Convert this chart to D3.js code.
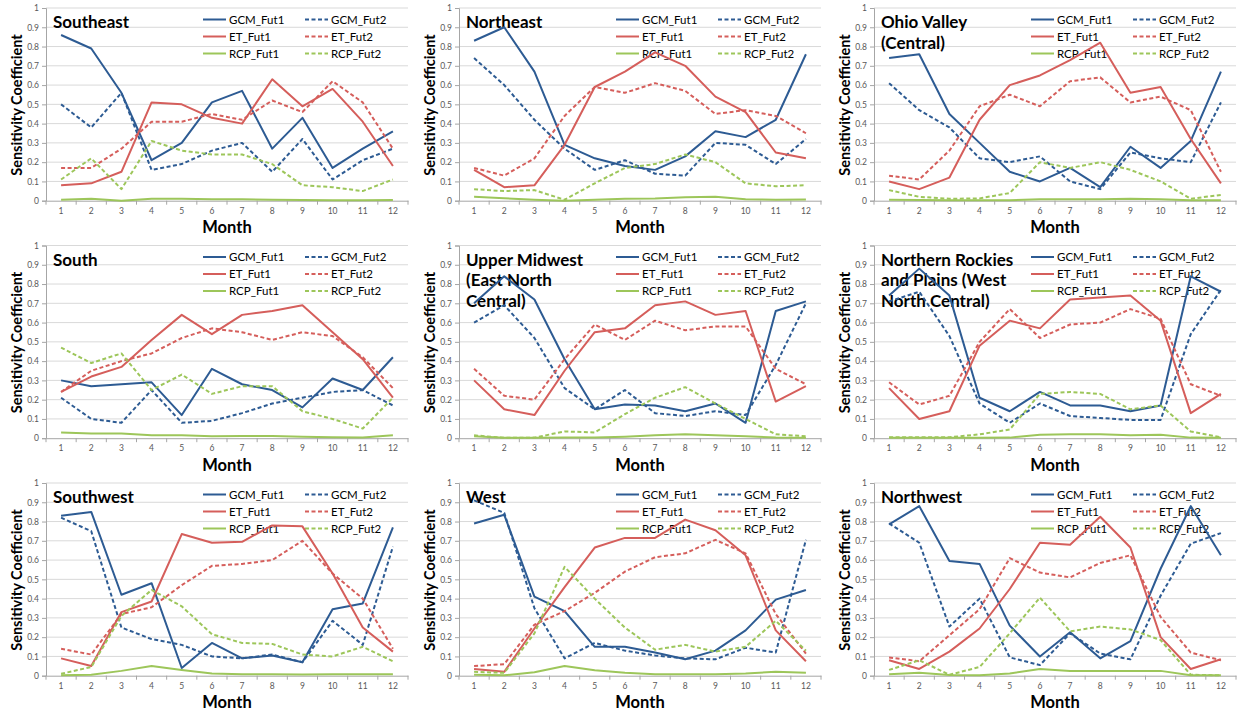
<!DOCTYPE html>
<html>
<head>
<meta charset="utf-8">
<script src="https://cdn.jsdelivr.net/npm/d3@7"></script>
<style>
  html, body { margin: 0; padding: 0; background: #fff; }
  svg { display: block; }
</style>
</head>
<body>
<svg id="chart" width="1241" height="712"></svg>
<script>
// Months on the x axis and y tick values
const months = [1, 2, 3, 4, 5, 6, 7, 8, 9, 10, 11, 12];
const yTicks = [0, 0.1, 0.2, 0.3, 0.4, 0.5, 0.6, 0.7, 0.8, 0.9, 1];
const seriesNames = ["GCM_Fut1", "GCM_Fut2", "ET_Fut1", "ET_Fut2", "RCP_Fut1", "RCP_Fut2"];

// Region titles (one line per array entry)
const titleSoutheast = ["Southeast"];
const titleNortheast = ["Northeast"];
const titleOhio = ["Ohio Valley", "(Central)"];
const titleSouth = ["South"];
const titleUpperMidwest = ["Upper Midwest", "(East North", "Central)"];
const titleRockies = ["Northern Rockies", "and Plains (West", "North Central)"];
const titleSouthwest = ["Southwest"];
const titleWest = ["West"];
const titleNorthwest = ["Northwest"];

// Sensitivity coefficients per region, series order as in seriesNames
const southeast = [
  [0.86, 0.79, 0.56, 0.21, 0.30, 0.51, 0.57, 0.27, 0.43, 0.17, 0.27, 0.36],
  [0.50, 0.38, 0.56, 0.16, 0.19, 0.26, 0.30, 0.15, 0.32, 0.11, 0.21, 0.27],
  [0.08, 0.09, 0.15, 0.51, 0.50, 0.43, 0.40, 0.63, 0.49, 0.58, 0.41, 0.18],
  [0.17, 0.17, 0.27, 0.41, 0.41, 0.45, 0.42, 0.52, 0.46, 0.62, 0.51, 0.27],
  [0.005, 0.01, 0.0, 0.01, 0.01, 0.008, 0.007, 0.005, 0.004, 0.002, 0.002, 0.003],
  [0.11, 0.22, 0.06, 0.31, 0.26, 0.24, 0.24, 0.19, 0.08, 0.07, 0.05, 0.11]
];
const northeast = [
  [0.83, 0.90, 0.67, 0.29, 0.22, 0.18, 0.16, 0.23, 0.36, 0.33, 0.42, 0.76],
  [0.74, 0.60, 0.42, 0.27, 0.16, 0.21, 0.14, 0.13, 0.30, 0.29, 0.19, 0.32],
  [0.16, 0.07, 0.08, 0.29, 0.59, 0.67, 0.77, 0.70, 0.54, 0.46, 0.25, 0.22],
  [0.17, 0.13, 0.22, 0.44, 0.59, 0.56, 0.61, 0.57, 0.45, 0.47, 0.44, 0.35],
  [0.02, 0.013, 0.005, 0.0, 0.005, 0.01, 0.012, 0.018, 0.02, 0.007, 0.005, 0.006],
  [0.06, 0.05, 0.055, 0.005, 0.09, 0.17, 0.19, 0.24, 0.20, 0.09, 0.075, 0.08]
];
const ohioValley = [
  [0.74, 0.76, 0.45, 0.30, 0.15, 0.10, 0.17, 0.07, 0.28, 0.17, 0.31, 0.67],
  [0.61, 0.47, 0.38, 0.22, 0.20, 0.23, 0.10, 0.06, 0.25, 0.22, 0.20, 0.51],
  [0.10, 0.06, 0.12, 0.42, 0.60, 0.65, 0.73, 0.82, 0.56, 0.59, 0.32, 0.09],
  [0.13, 0.11, 0.26, 0.49, 0.55, 0.49, 0.62, 0.64, 0.51, 0.54, 0.47, 0.15],
  [0.005, 0.003, 0.002, 0.002, 0.002, 0.008, 0.007, 0.008, 0.01, 0.007, 0.002, 0.002],
  [0.055, 0.02, 0.01, 0.012, 0.04, 0.20, 0.17, 0.20, 0.16, 0.10, 0.01, 0.03]
];
const south = [
  [0.30, 0.27, 0.28, 0.29, 0.12, 0.36, 0.28, 0.25, 0.16, 0.31, 0.25, 0.42],
  [0.21, 0.10, 0.08, 0.25, 0.08, 0.09, 0.13, 0.18, 0.21, 0.24, 0.25, 0.17],
  [0.24, 0.32, 0.37, 0.51, 0.64, 0.54, 0.64, 0.66, 0.69, 0.55, 0.41, 0.21],
  [0.24, 0.35, 0.40, 0.44, 0.52, 0.57, 0.55, 0.51, 0.55, 0.53, 0.42, 0.26],
  [0.03, 0.025, 0.025, 0.015, 0.015, 0.01, 0.012, 0.012, 0.008, 0.005, 0.004, 0.015],
  [0.47, 0.39, 0.44, 0.25, 0.33, 0.23, 0.27, 0.27, 0.14, 0.10, 0.05, 0.21]
];
const upperMidwest = [
  [0.70, 0.84, 0.72, 0.41, 0.15, 0.175, 0.17, 0.14, 0.18, 0.08, 0.66, 0.71],
  [0.60, 0.69, 0.52, 0.26, 0.15, 0.25, 0.13, 0.115, 0.14, 0.12, 0.38, 0.70],
  [0.30, 0.15, 0.12, 0.35, 0.55, 0.57, 0.69, 0.71, 0.64, 0.66, 0.19, 0.27],
  [0.36, 0.22, 0.20, 0.41, 0.59, 0.51, 0.61, 0.56, 0.58, 0.58, 0.36, 0.28],
  [0.01, 0.002, 0.002, 0.003, 0.003, 0.008, 0.015, 0.02, 0.015, 0.01, 0.003, 0.002],
  [0.015, 0.002, 0.003, 0.035, 0.03, 0.125, 0.21, 0.265, 0.18, 0.10, 0.02, 0.01]
];
const northernRockies = [
  [0.74, 0.88, 0.74, 0.21, 0.14, 0.24, 0.17, 0.17, 0.14, 0.17, 0.84, 0.76],
  [0.71, 0.76, 0.53, 0.18, 0.08, 0.18, 0.115, 0.105, 0.095, 0.095, 0.54, 0.77],
  [0.26, 0.10, 0.14, 0.48, 0.61, 0.57, 0.72, 0.73, 0.74, 0.61, 0.13, 0.23],
  [0.29, 0.175, 0.22, 0.50, 0.67, 0.52, 0.59, 0.60, 0.67, 0.62, 0.28, 0.22],
  [0.002, 0.002, 0.002, 0.002, 0.003, 0.018, 0.02, 0.02, 0.015, 0.018, 0.003, 0.002],
  [0.005, 0.005, 0.005, 0.02, 0.045, 0.23, 0.24, 0.23, 0.15, 0.17, 0.035, 0.005]
];
const southwest = [
  [0.83, 0.85, 0.42, 0.48, 0.04, 0.17, 0.09, 0.105, 0.07, 0.345, 0.375, 0.77],
  [0.82, 0.75, 0.25, 0.19, 0.16, 0.10, 0.09, 0.11, 0.07, 0.285, 0.16, 0.67],
  [0.09, 0.05, 0.33, 0.385, 0.735, 0.69, 0.695, 0.78, 0.775, 0.53, 0.25, 0.125],
  [0.14, 0.11, 0.32, 0.355, 0.47, 0.57, 0.58, 0.60, 0.70, 0.53, 0.40, 0.14],
  [0.002, 0.005, 0.025, 0.05, 0.03, 0.012, 0.008, 0.008, 0.006, 0.008, 0.008, 0.008],
  [0.01, 0.045, 0.31, 0.445, 0.36, 0.215, 0.17, 0.165, 0.11, 0.10, 0.15, 0.075]
];
const west = [
  [0.79, 0.835, 0.41, 0.335, 0.15, 0.15, 0.12, 0.085, 0.13, 0.235, 0.395, 0.445],
  [0.91, 0.845, 0.35, 0.09, 0.17, 0.13, 0.105, 0.09, 0.085, 0.145, 0.12, 0.705],
  [0.035, 0.02, 0.245, 0.46, 0.665, 0.715, 0.715, 0.81, 0.755, 0.625, 0.235, 0.075],
  [0.05, 0.06, 0.265, 0.335, 0.43, 0.54, 0.615, 0.635, 0.705, 0.635, 0.32, 0.115],
  [0.005, 0.002, 0.018, 0.05, 0.028, 0.015, 0.008, 0.008, 0.008, 0.012, 0.02, 0.015],
  [0.02, 0.015, 0.22, 0.565, 0.40, 0.25, 0.135, 0.16, 0.125, 0.15, 0.285, 0.13]
];
const northwest = [
  [0.785, 0.88, 0.595, 0.58, 0.26, 0.10, 0.225, 0.09, 0.18, 0.555, 0.88, 0.625],
  [0.79, 0.69, 0.255, 0.40, 0.095, 0.055, 0.22, 0.115, 0.085, 0.415, 0.685, 0.74],
  [0.08, 0.035, 0.125, 0.245, 0.45, 0.69, 0.68, 0.825, 0.665, 0.20, 0.035, 0.085],
  [0.095, 0.075, 0.21, 0.345, 0.61, 0.535, 0.51, 0.585, 0.625, 0.305, 0.12, 0.08],
  [0.007, 0.015, 0.003, 0.002, 0.012, 0.035, 0.025, 0.025, 0.025, 0.025, 0.002, 0.002],
  [0.03, 0.08, 0.005, 0.045, 0.22, 0.405, 0.23, 0.255, 0.24, 0.185, 0.005, 0.002]
];

// Grid of panels, row by row
const panels = [
  { title: titleSoutheast, data: southeast },
  { title: titleNortheast, data: northeast },
  { title: titleOhio, data: ohioValley },
  { title: titleSouth, data: south },
  { title: titleUpperMidwest, data: upperMidwest },
  { title: titleRockies, data: northernRockies },
  { title: titleSouthwest, data: southwest },
  { title: titleWest, data: west },
  { title: titleNorthwest, data: northwest }
];

// Styling per series
const seriesColor = ["#2d5b93", "#2d5b93", "#d55e5b", "#d55e5b", "#9dc65a", "#9dc65a"];
const seriesDash = [null, "4,2.5", null, "4,2.5", null, "4,2.5"];

const colX = [0, 413, 828];
const rowY = [0, 237.5, 475];
const FONT = "Lato, 'Open Sans', 'Liberation Sans', sans-serif";

const svg = d3.select("#chart");

panels.forEach((p, i) => {
  const ox = colX[i % 3], oy = rowY[Math.floor(i / 3)];
  const g = svg.append("g").attr("transform", `translate(${ox},${oy})`);

  const left = 46, right = 408, top = 8, bottom = 200.7;
  const x = d3.scaleBand().domain(months).range([left, right]).padding(0);
  const y = d3.scaleLinear().domain([0, 1]).range([bottom, top]);

  // horizontal gridlines
  g.append("g").selectAll("line").data(yTicks.filter(t => t > 0)).join("line")
    .attr("x1", left).attr("x2", right)
    .attr("y1", d => y(d)).attr("y2", d => y(d))
    .attr("stroke", "#d9d9d9").attr("stroke-width", 1);

  // y axis
  const yAxis = g.append("g").attr("transform", `translate(${left},0)`)
    .call(d3.axisLeft(y).tickValues(yTicks).tickSize(4).tickPadding(3)
      .tickFormat(d => d3.format("~g")(d)));
  yAxis.select(".domain").attr("stroke", "#a6a6a6");
  yAxis.selectAll(".tick line").attr("stroke", "#a6a6a6");
  yAxis.selectAll("text").attr("fill", "#595959").attr("font-size", 8.5).attr("font-family", FONT);

  // x axis with ticks between categories
  const xAxis = g.append("g").attr("transform", `translate(0,${bottom})`)
    .call(d3.axisBottom(x).tickSize(0).tickPadding(7));
  xAxis.select(".domain").attr("stroke", "#a6a6a6");
  xAxis.selectAll("text").attr("fill", "#595959").attr("font-size", 8.5).attr("font-family", FONT);
  const bounds = months.map(m => x(m)).concat([x(12) + x.bandwidth()]);
  xAxis.selectAll("line.sep").data(bounds).join("line").attr("class", "sep")
    .attr("x1", d => d).attr("x2", d => d).attr("y1", 0).attr("y2", 4)
    .attr("stroke", "#a6a6a6");

  // axis titles
  g.append("text").attr("x", 227).attr("y", 233)
    .attr("text-anchor", "middle").attr("font-family", FONT)
    .attr("font-weight", "bold").attr("font-size", 16.5).attr("fill", "#000")
    .text("Month");
  g.append("text").attr("transform", `translate(22,105) rotate(-90)`)
    .attr("text-anchor", "middle").attr("font-family", FONT)
    .attr("font-weight", "bold").attr("font-size", 14.5).attr("fill", "#000")
    .text("Sensitivity Coefficient");

  // region title
  const t = g.append("text").attr("x", 53).attr("y", 28)
    .attr("font-family", FONT).attr("font-weight", "bold")
    .attr("font-size", 17).attr("fill", "#000");
  t.selectAll("tspan").data(p.title).join("tspan")
    .attr("x", 53).attr("dy", (d, k) => k === 0 ? 0 : 20.5).text(d => d);

  // legend
  const legendCols = [203, 305];
  seriesNames.forEach((name, s) => {
    const lx = legendCols[s % 2], ly = 19.5 + Math.floor(s / 2) * 17;
    g.append("line").attr("x1", lx).attr("x2", lx + 23).attr("y1", ly).attr("y2", ly)
      .attr("stroke", seriesColor[s]).attr("stroke-width", 2)
      .attr("stroke-dasharray", seriesDash[s]);
    g.append("text").attr("x", lx + 26).attr("y", ly + 4)
      .attr("font-family", FONT).attr("font-size", 11.5).attr("fill", "#000")
      .text(name);
  });

  // series lines
  const line = d3.line()
    .x((d, k) => x(months[k]) + x.bandwidth() / 2)
    .y(d => y(d));
  p.data.forEach((vals, s) => {
    g.append("path").datum(vals)
      .attr("d", line).attr("fill", "none")
      .attr("stroke", seriesColor[s]).attr("stroke-width", 2)
      .attr("stroke-linejoin", "round")
      .attr("stroke-dasharray", seriesDash[s]);
  });
});
</script>
</body>
</html>
